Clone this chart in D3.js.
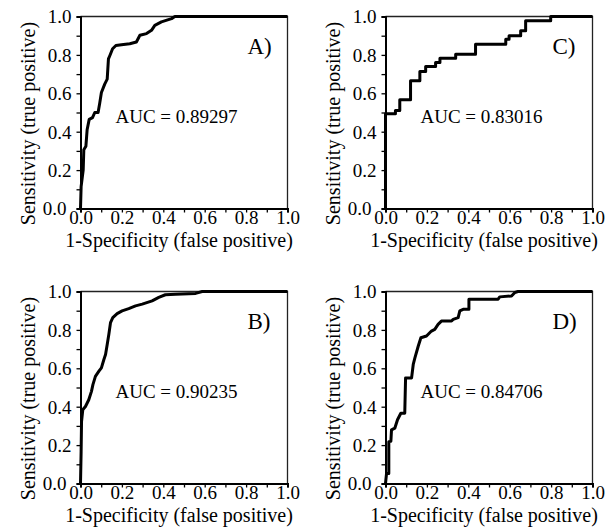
<!DOCTYPE html>
<html>
<head>
<meta charset="utf-8">
<script src="https://cdn.jsdelivr.net/npm/d3@7"></script>
<style>
    body { margin: 0; background: #fff; }
    text { font-family: "Liberation Serif", "Times New Roman", serif; fill: #000; }
</style>
</head>
<body>
<div id="content"></div>
<script>
// ******* DATA *******
const panelLabels = ["A)", "B)", "C)", "D)"];
const aucLabels = ["AUC = 0.89297", "AUC = 0.90235", "AUC = 0.83016", "AUC = 0.84706"];
const tickValues = [0, 0.1, 0.2, 0.3, 0.4, 0.5, 0.6, 0.7, 0.8, 0.9, 1.0];
const labeledTicks = [0, 0.2, 0.4, 0.6, 0.8, 1.0];
const xTitle = "1-Specificity (false positive)";
const yTitle = "Sensitivity (true positive)";

// [false positive rate, true positive rate]
const rocA = [[0, 0], [0.003, 0.114], [0.013, 0.20], [0.016, 0.306], [0.026, 0.324], [0.032, 0.41],
    [0.042, 0.464], [0.058, 0.473], [0.069, 0.50], [0.085, 0.50], [0.093, 0.55], [0.101, 0.604],
    [0.117, 0.648], [0.129, 0.674], [0.135, 0.779], [0.142, 0.797], [0.155, 0.832], [0.171, 0.849],
    [0.198, 0.853], [0.238, 0.858], [0.27, 0.867], [0.287, 0.902], [0.319, 0.911], [0.343, 0.928],
    [0.359, 0.954], [0.391, 0.972], [0.44, 0.989], [0.456, 1.0], [1, 1]];

const rocB = [[0, 0], [0.003, 0.166], [0.005, 0.323], [0.011, 0.384], [0.024, 0.401], [0.04, 0.436],
    [0.053, 0.48], [0.06, 0.515], [0.072, 0.558], [0.089, 0.585], [0.101, 0.602], [0.113, 0.646],
    [0.121, 0.672], [0.129, 0.724], [0.137, 0.777], [0.145, 0.838], [0.156, 0.864], [0.177, 0.885],
    [0.201, 0.899], [0.233, 0.911], [0.266, 0.925], [0.298, 0.934], [0.346, 0.951], [0.378, 0.969],
    [0.41, 0.983], [0.459, 0.986], [0.556, 0.99], [0.588, 1.0], [1, 1]];

// step corners (where each vertical rise ends)
const rocC = [[0, 0], [0, 0.493], [0.048, 0.51], [0.069, 0.567], [0.121, 0.666], [0.166, 0.713],
    [0.194, 0.74], [0.242, 0.761], [0.263, 0.782], [0.339, 0.804], [0.435, 0.856], [0.581, 0.882],
    [0.597, 0.90], [0.653, 0.926], [0.677, 0.978], [0.798, 1.0], [1, 1]];

const rocD = [[0, 0], [0.005, 0.052], [0.016, 0.052], [0.016, 0.218], [0.026, 0.22], [0.029, 0.279],
    [0.045, 0.288], [0.058, 0.332], [0.074, 0.366], [0.093, 0.366], [0.097, 0.55], [0.126, 0.55],
    [0.134, 0.62], [0.142, 0.654], [0.158, 0.715], [0.171, 0.759], [0.198, 0.768], [0.222, 0.794],
    [0.238, 0.803], [0.254, 0.829], [0.27, 0.846], [0.319, 0.846], [0.327, 0.855], [0.351, 0.864],
    [0.359, 0.899], [0.375, 0.907], [0.403, 0.907], [0.403, 0.96], [0.544, 0.96], [0.552, 0.972],
    [0.609, 0.977], [0.625, 0.995], [0.64, 1.0], [1, 1]];

// ******* LAYOUT *******
const width = 616, height = 530;
const plotW = 207, plotH = 192;
const colLeft = [80.5, 385.5];
const rowTop = [16.5, 291.5];
const serif = '"Liberation Serif", "Times New Roman", serif';

const panels = [
    { data: rocA, col: 0, row: 0, step: false },
    { data: rocB, col: 0, row: 1, step: false },
    { data: rocC, col: 1, row: 0, step: true },
    { data: rocD, col: 1, row: 1, step: false }
];

const svg = d3.select("#content").append("svg")
    .attr("width", width)
    .attr("height", height);

const x = d3.scaleLinear().domain([0, 1]).range([0, plotW]);
const y = d3.scaleLinear().domain([0, 1]).range([plotH, 0]);
const fmt = d => labeledTicks.some(t => Math.abs(t - d) < 1e-9) ? d3.format(".1f")(d) : "";

panels.forEach((p, i) => {
    const g = svg.append("g")
        .attr("transform", `translate(${colLeft[p.col]},${rowTop[p.row]})`);

    // thin frame on top and right
    g.append("path")
        .attr("d", `M0,0H${plotW}V${plotH}`)
        .attr("fill", "none")
        .attr("stroke", "#222")
        .attr("stroke-width", 1.3);

    // roc curve
    const line = d3.line()
        .x(d => x(d[0]))
        .y(d => y(d[1]))
        .curve(p.step ? d3.curveStepAfter : d3.curveLinear);

    g.append("path")
        .datum(p.data)
        .attr("d", line)
        .attr("fill", "none")
        .attr("stroke", "#000")
        .attr("stroke-width", 3)
        .attr("stroke-linejoin", "round");

    // axes
    const xAxis = g.append("g")
        .attr("transform", `translate(0,${plotH})`)
        .call(d3.axisBottom(x).tickValues(tickValues).tickFormat(fmt).tickSize(4));
    const yAxis = g.append("g")
        .call(d3.axisLeft(y).tickValues(tickValues).tickFormat(fmt).tickSize(4).tickPadding(5));

    [xAxis, yAxis].forEach(a => {
        a.attr("font-family", serif).attr("font-size", 19);
        a.select(".domain").attr("stroke", "#000").attr("stroke-width", 2);
        a.selectAll(".tick line").attr("stroke", "#000").attr("stroke-width", 1.3);
        a.selectAll(".tick text").attr("fill", "#000");
    });
    xAxis.selectAll(".tick text").attr("dy", null).attr("y", 15.5);
    yAxis.selectAll(".tick text").attr("dy", "0.34em");
    // the 0.0 label on y sits a little further left, clear of the x 0.0
    yAxis.selectAll(".tick text").filter(d => d === 0).attr("x", -14);

    // axis titles
    g.append("text")
        .attr("x", plotW / 2 - 5)
        .attr("y", plotH + 38.5)
        .attr("text-anchor", "middle")
        .attr("font-size", 20)
        .text(xTitle);

    g.append("text")
        .attr("transform", `translate(-46,${plotH / 2 + 11}) rotate(-90)`)
        .attr("text-anchor", "middle")
        .attr("font-size", 20)
        .text(yTitle);

    // annotations
    g.append("text")
        .attr("x", 35)
        .attr("y", 106)
        .attr("font-size", 19)
        .text(aucLabels[i]);

    g.append("text")
        .attr("x", 167)
        .attr("y", 37)
        .attr("font-size", 23)
        .text(panelLabels[i]);
});
</script>
</body>
</html>
